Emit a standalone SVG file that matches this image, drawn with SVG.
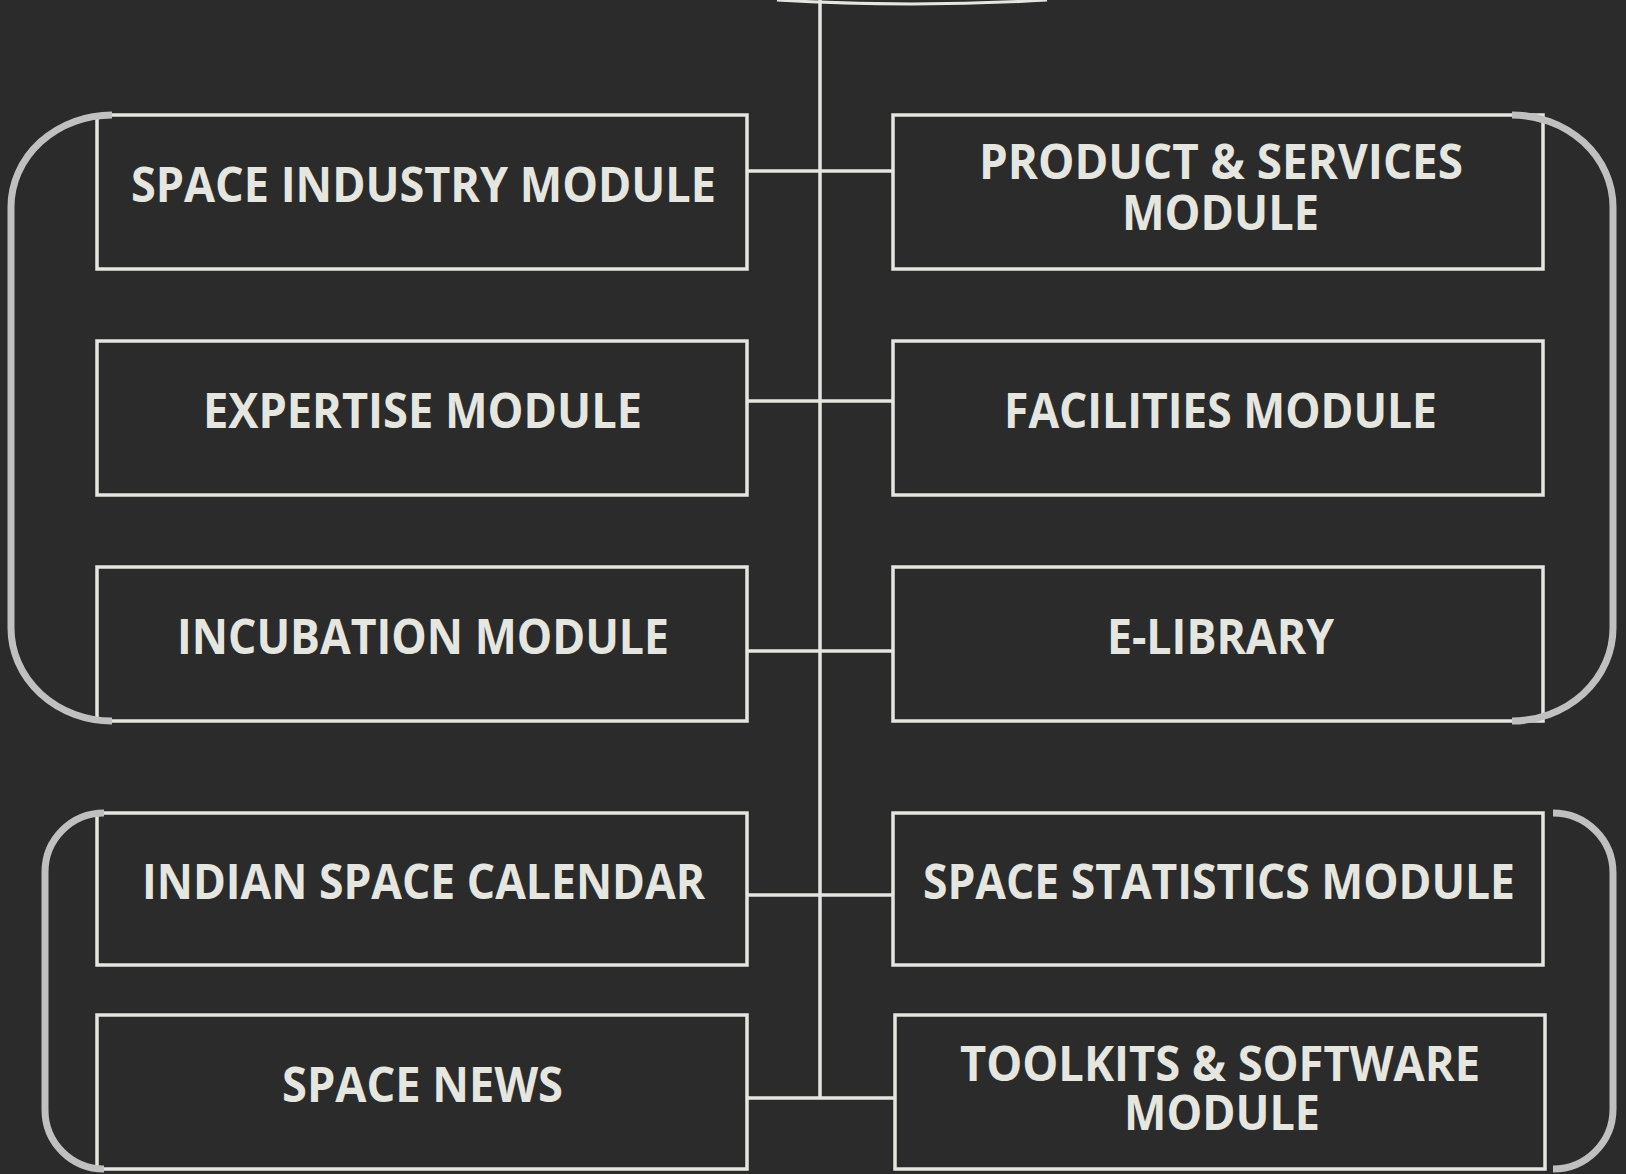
<svg xmlns="http://www.w3.org/2000/svg" width="1626" height="1174" viewBox="0 0 1626 1174">
  <style>
    .bg { fill: #2b2b2b; }
    .box { fill: #2b2b2b; stroke: #e6e6e0; stroke-width: 3.5; }
    .wire { fill: none; stroke: #e6e6e0; stroke-width: 3.5; }
    .bracket { fill: none; stroke: #c0c0c0; stroke-width: 7; stroke-linecap: butt; }
    .label { font-family: "Open Sans", "Noto Sans", "Liberation Sans", sans-serif; font-weight: 700; font-size: 48px; fill: #e6e6e0; text-anchor: middle; }
  </style>

  <rect class="bg" x="0" y="0" width="1626" height="1174"/>

  <!-- partly visible node above the frame -->
  <path d="M 777 0 Q 912 8 1047 0" fill="none" stroke="#e6e6e0" stroke-width="3"/>

  <g id="connectors">
    <line class="wire" x1="820" y1="0" x2="820" y2="1098"/>
    <line class="wire" x1="747" y1="171" x2="893" y2="171"/>
    <line class="wire" x1="747" y1="401" x2="893" y2="401"/>
    <line class="wire" x1="747" y1="651" x2="893" y2="651"/>
    <line class="wire" x1="747" y1="895" x2="893" y2="895"/>
    <line class="wire" x1="747" y1="1098" x2="895" y2="1098"/>
  </g>

  <g id="space-industry-module">
    <rect class="box" x="97" y="115" width="650" height="154"/>
    <text class="label" x="423.5" y="202" textLength="585" lengthAdjust="spacingAndGlyphs">SPACE INDUSTRY MODULE</text>
  </g>
  <g id="product-services-module">
    <rect class="box" x="893" y="115" width="650" height="154"/>
    <text class="label" x="1221" y="179" textLength="484" lengthAdjust="spacingAndGlyphs">PRODUCT &amp; SERVICES</text>
    <text class="label" x="1220.5" y="230" textLength="197" lengthAdjust="spacingAndGlyphs">MODULE</text>
  </g>
  <g id="expertise-module">
    <rect class="box" x="97" y="341" width="650" height="154"/>
    <text class="label" x="422.5" y="428" textLength="439" lengthAdjust="spacingAndGlyphs">EXPERTISE MODULE</text>
  </g>
  <g id="facilities-module">
    <rect class="box" x="893" y="341" width="650" height="154"/>
    <text class="label" x="1220.5" y="428" textLength="433" lengthAdjust="spacingAndGlyphs">FACILITIES MODULE</text>
  </g>
  <g id="incubation-module">
    <rect class="box" x="97" y="567" width="650" height="154"/>
    <text class="label" x="423" y="654" textLength="492" lengthAdjust="spacingAndGlyphs">INCUBATION MODULE</text>
  </g>
  <g id="e-library">
    <rect class="box" x="893" y="567" width="650" height="154"/>
    <text class="label" x="1220.5" y="654" textLength="227" lengthAdjust="spacingAndGlyphs">E-LIBRARY</text>
  </g>
  <g id="indian-space-calendar">
    <rect class="box" x="97" y="813" width="650" height="152"/>
    <text class="label" x="423.5" y="899" textLength="563" lengthAdjust="spacingAndGlyphs">INDIAN SPACE CALENDAR</text>
  </g>
  <g id="space-statistics-module">
    <rect class="box" x="893" y="813" width="650" height="152"/>
    <text class="label" x="1219" y="899" textLength="592" lengthAdjust="spacingAndGlyphs">SPACE STATISTICS MODULE</text>
  </g>
  <g id="space-news">
    <rect class="box" x="97" y="1015" width="650" height="154"/>
    <text class="label" x="422.5" y="1102" textLength="281" lengthAdjust="spacingAndGlyphs">SPACE NEWS</text>
  </g>
  <g id="toolkits-software-module">
    <rect class="box" x="895" y="1015" width="650" height="154"/>
    <text class="label" x="1220" y="1081" textLength="520" lengthAdjust="spacingAndGlyphs">TOOLKITS &amp; SOFTWARE</text>
    <text class="label" x="1222" y="1130" textLength="196" lengthAdjust="spacingAndGlyphs">MODULE</text>
  </g>

  <!-- group brackets -->
  <g id="brackets">
    <path class="bracket" d="M 112 115 A 101 92 0 0 0 11 207 L 11 628 A 101 93 0 0 0 112 721"/>
    <path class="bracket" d="M 1512 115 A 101 92 0 0 1 1613 207 L 1613 628 A 101 93 0 0 1 1512 721"/>
    <path class="bracket" d="M 104 813 A 59 59 0 0 0 45 872 L 45 1110 A 59 59 0 0 0 104 1169"/>
    <path class="bracket" d="M 1553 813 A 60 60 0 0 1 1613 873 L 1613 1109 A 60 60 0 0 1 1553 1169"/>
  </g>
</svg>
